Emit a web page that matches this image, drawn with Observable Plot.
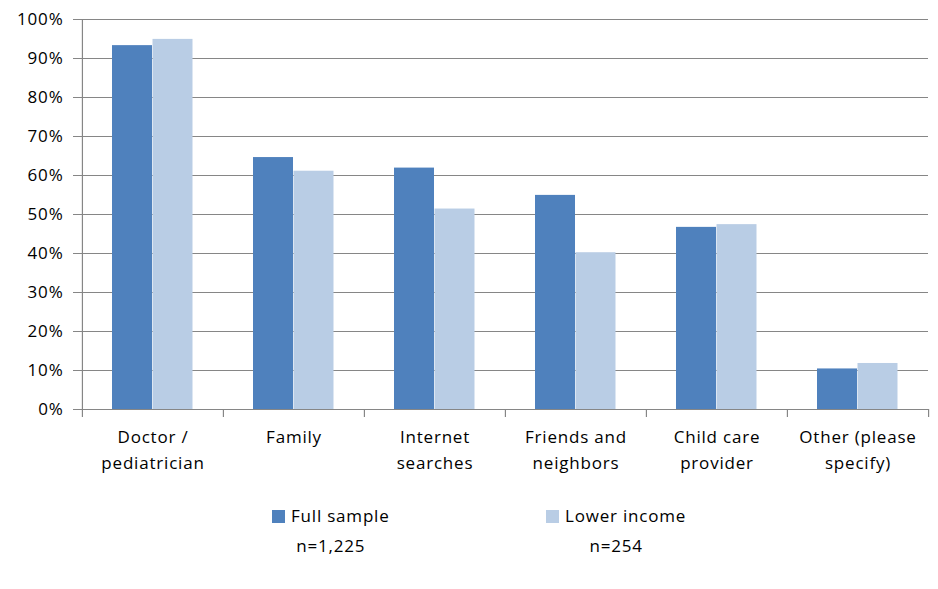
<!DOCTYPE html>
<html>
<head>
<meta charset="utf-8">
<script src="https://cdn.jsdelivr.net/npm/d3@7"></script>
<script src="https://cdn.jsdelivr.net/npm/@observablehq/plot@0.6"></script>
<style>
  html, body { margin: 0; padding: 0; background: #fff; }
  #wrap { position: relative; width: 938px; height: 589px; font-family: "Open Sans", sans-serif; font-size: 17px; letter-spacing: 0.8px; color: #000; }
  .legend-item { position: absolute; top: 503px; display: flex; flex-direction: column; align-items: center; }
  .legend-key { display: flex; align-items: center; line-height: 26px; }
  .swatch { width: 13px; height: 13px; margin-right: 6px; }
  .n { line-height: 26px; margin-top: 4px; }
</style>
</head>
<body>
<div id="wrap"></div>
<script>
// Where parents look for information, by source (% of respondents)
const categories = [
  "Doctor /\npediatrician",
  "Family",
  "Internet\nsearches",
  "Friends and\nneighbors",
  "Child care\nprovider",
  "Other (please\nspecify)"
];
const fullSample = [93.3, 64.6, 61.9, 54.9, 46.7, 10.4];
const lowerIncome = [94.9, 61.1, 51.4, 40.2, 47.4, 11.8];
const seriesNames = ["Full sample", "Lower income"];
const sampleSizes = ["n=1,225", "n=254"];
const seriesColors = ["#4F81BD", "#B9CDE5"];
const yTicks = [0, 10, 20, 30, 40, 50, 60, 70, 80, 90, 100];

const rows = categories.map((c, i) => ({category: c, full: fullSample[i], lower: lowerIncome[i]}));

const W = 938, H = 490, ML = 81, MR = 10, MT = 19, MB = 81;
const halfBand = (W - ML - MR) / categories.length / 2;
const gray = "#868686";

const chart = Plot.plot({
  width: W,
  height: H,
  marginLeft: ML,
  marginRight: MR,
  marginTop: MT,
  marginBottom: MB,
  style: {fontFamily: "'Open Sans', sans-serif", fontSize: "17px", color: "#000", background: "#fff", letterSpacing: "0.8px"},
  x: {domain: categories, padding: 0, label: null},
  y: {domain: [0, 100], label: null},
  marks: [
    // horizontal gridlines
    Plot.ruleY(yTicks, {stroke: gray, strokeWidth: 1.2}),
    // vertical value axis line
    Plot.ruleX([categories[0]], {dx: -halfBand, y1: 0, y2: 100, stroke: gray, strokeWidth: 1.2}),
    // category separator ticks below the baseline
    Plot.ruleX(categories, {dx: -halfBand, y1: 0, y2: 0, insetBottom: -8, stroke: gray, strokeWidth: 1.2}),
    Plot.ruleX([categories[categories.length - 1]], {dx: halfBand, y1: 0, y2: 0, insetBottom: -8, stroke: gray, strokeWidth: 1.2}),
    // bars
    Plot.barY(rows, {x: "category", y: "full", fill: seriesColors[0], insetLeft: 30, insetRight: 71}),
    Plot.barY(rows, {x: "category", y: "lower", fill: seriesColors[1], insetLeft: 70.5, insetRight: 30.5}),
    // axes
    Plot.axisY({ticks: yTicks, tickSize: 8, tickPadding: 10, tickFormat: d => d + "%", stroke: gray, label: null}),
    Plot.axisX({tickSize: 0, tickPadding: 15, lineHeight: 1.53, label: null})
  ]
});

const wrap = document.getElementById("wrap");
wrap.appendChild(chart);

// legend below the chart
const legendLefts = [272, 546];
seriesNames.forEach((name, i) => {
  const item = document.createElement("div");
  item.className = "legend-item";
  item.style.left = legendLefts[i] + "px";
  const key = document.createElement("div");
  key.className = "legend-key";
  const sw = document.createElement("span");
  sw.className = "swatch";
  sw.style.background = seriesColors[i];
  const label = document.createElement("span");
  label.textContent = name;
  key.appendChild(sw);
  key.appendChild(label);
  const n = document.createElement("div");
  n.className = "n";
  n.textContent = sampleSizes[i];
  item.appendChild(key);
  item.appendChild(n);
  wrap.appendChild(item);
});
</script>
</body>
</html>
